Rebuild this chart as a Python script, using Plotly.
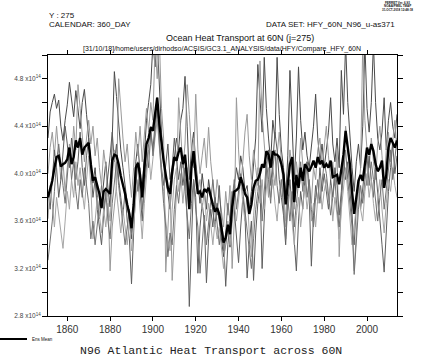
import plotly.graph_objects as go

# ---------------- data (units of 1e14 W) ----------------
years = list(range(1851, 2015))

ens_mean = [
    3.80, 3.86, 3.94, 4.05, 4.14, 4.15, 4.06, 4.08, 4.09, 4.12,
    4.22, 4.08, 4.14, 4.28, 4.22, 4.30, 4.16, 4.22, 4.24, 4.26,
    4.08, 3.94, 3.97, 3.90, 3.83, 3.71, 3.85, 3.87, 3.85, 3.83,
    4.11, 4.16, 4.15, 4.08, 3.98, 3.91, 3.83, 3.74, 3.66, 3.54,
    3.74, 4.05, 4.09, 3.99, 3.80, 4.05, 4.25, 4.30, 4.39, 4.36,
    4.50, 4.64, 4.42, 4.25, 4.11, 3.99, 3.88, 3.83, 4.02, 4.14,
    4.11, 4.18, 4.22, 4.08, 4.16, 3.95, 3.70, 4.05, 4.19, 3.99,
    3.83, 3.85, 3.80, 3.87, 3.85, 3.88, 3.80, 3.74, 3.68, 3.71,
    3.66, 3.54, 3.42, 3.46, 3.57, 3.49, 3.72, 3.85, 3.86, 3.88,
    3.97, 3.91, 3.83, 3.80, 3.66, 3.74, 3.88, 3.94, 3.95, 4.00,
    4.08, 4.05, 4.19, 4.16, 4.05, 4.19, 4.16, 4.16, 4.14, 4.08,
    3.99, 3.74, 3.94, 4.08, 4.14, 3.76, 3.99, 3.88, 4.05, 3.94,
    4.08, 4.05, 4.02, 4.06, 4.11, 4.05, 4.14, 4.08, 4.11, 4.05,
    4.08, 4.05, 4.11, 3.97, 3.98, 3.99, 3.91, 4.02, 4.16, 4.36,
    4.22, 4.08, 3.85, 3.66, 3.80, 3.94, 3.99, 3.94, 4.08, 4.22,
    4.16, 4.25, 4.19, 4.08, 4.02, 4.05, 4.11, 3.88, 3.99, 4.22,
    4.30, 4.26, 4.22, 4.28,
]

member_1 = [
    4.30, 4.52, 4.60, 4.67, 4.55, 4.62, 4.40, 4.28, 4.45, 4.58,
    4.77, 4.60, 4.48, 4.70, 4.52, 4.38, 4.60, 4.71, 4.50, 4.28,
    4.10, 3.92, 4.05, 3.80, 3.62, 3.75, 3.95, 4.10, 3.88, 3.72,
    4.30, 4.86, 4.65, 4.40, 4.20, 4.05, 3.90, 3.78, 3.60, 3.45,
    3.70, 4.10, 4.25, 4.00, 3.85, 4.20, 4.45, 4.60, 4.75, 5.10,
    4.90, 5.15, 4.70, 4.35, 4.10, 3.95, 3.80, 3.70, 3.95, 4.15,
    4.30, 4.20, 4.45, 4.55, 4.82, 4.40, 3.95, 4.20, 4.35, 4.10,
    3.90, 3.75, 4.00, 3.85, 3.70, 3.95, 3.80, 3.65, 3.55, 3.75,
    3.60, 3.45, 3.30, 3.40, 3.55, 3.38, 3.70, 3.90, 4.05, 3.95,
    4.15, 4.05, 3.85, 3.90, 3.70, 3.85, 4.05, 4.30, 4.92, 4.60,
    4.35, 4.98, 4.55, 4.30, 4.10, 4.45, 4.30, 4.98, 4.50, 4.20,
    4.05, 3.80, 4.15, 4.87, 4.40, 3.95, 4.30, 4.90, 4.45, 4.20,
    4.35, 4.15, 4.05, 4.20, 4.40, 4.67, 4.30, 4.10, 4.25, 4.05,
    4.20, 4.35, 4.64, 4.25, 4.10, 4.30, 4.05, 4.87, 4.50, 5.10,
    4.60, 4.30, 4.05, 3.85, 4.10, 4.25, 4.05, 4.40, 5.10, 4.55,
    4.35, 4.60, 5.10, 4.60, 4.30, 4.20, 4.35, 4.64, 4.20, 4.45,
    4.60, 4.40, 4.30, 4.50,
]

member_2 = [
    4.00, 4.22, 4.35, 4.15, 4.40, 4.20, 3.95, 4.10, 3.85, 4.05,
    4.25, 4.10, 4.40, 4.20, 4.75, 4.55, 4.35, 4.10, 4.30, 4.45,
    4.25, 4.40, 4.15, 4.30, 4.05, 3.90, 4.20, 4.05, 3.80, 3.18,
    3.55, 3.70, 3.90, 4.80, 4.50, 4.30, 4.10, 4.25, 4.00, 3.80,
    4.05, 4.35, 4.15, 4.40, 4.10, 4.30, 4.55, 4.35, 4.60, 4.45,
    5.10, 4.80, 5.15, 4.55, 4.30, 3.17, 3.60, 3.90, 3.10, 3.50,
    3.85, 4.64, 4.30, 4.05, 4.25, 4.75, 4.50, 4.20, 4.05, 4.67,
    4.20, 4.00, 4.15, 4.30, 4.05, 4.39, 4.10, 3.90, 3.75, 3.95,
    3.80, 3.70, 3.55, 3.85, 3.65, 3.90, 3.20, 3.60, 4.64, 4.20,
    3.90, 4.10, 4.35, 4.50, 4.15, 3.95, 4.20, 4.05, 3.90, 4.95,
    4.50, 4.25, 4.05, 3.80, 4.20, 4.05, 3.90, 4.15, 4.35, 4.10,
    3.85, 3.60, 3.95, 4.20, 4.05, 3.70, 4.10, 3.95, 4.30, 4.05,
    3.85, 4.10, 3.90, 3.75, 4.05, 3.95, 4.20, 4.30, 4.05, 4.25,
    4.40, 4.15, 3.95, 4.10, 3.90, 4.20, 3.30, 3.75, 4.05, 4.40,
    4.20, 4.05, 3.70, 3.18, 3.50, 3.85, 4.05, 5.10, 4.45, 4.20,
    4.05, 4.30, 4.10, 3.95, 4.25, 4.40, 4.15, 3.90, 4.20, 4.35,
    4.10, 4.25, 4.45, 4.20,
]

member_3 = [
    3.85, 3.70, 3.95, 4.20, 4.05, 3.80, 3.95, 4.15, 4.40, 4.25,
    4.05, 4.30, 4.15, 3.95, 4.10, 4.35, 4.05, 3.90, 4.15, 4.30,
    4.05, 3.80, 3.95, 3.70, 3.55, 3.40, 3.65, 3.80, 4.00, 4.15,
    4.35, 4.10, 4.25, 3.95, 3.80, 3.65, 3.85, 3.60, 3.45, 3.07,
    3.50, 3.90, 4.10, 3.85, 3.60, 3.95, 4.20, 4.05, 4.35, 4.20,
    4.40, 4.64, 4.30, 4.05, 3.90, 4.10, 4.25, 3.95, 4.05, 4.30,
    4.15, 3.95, 4.10, 3.90, 4.05, 3.60, 2.88, 3.50, 3.95, 3.80,
    3.16, 3.55, 3.75, 3.60, 3.08, 3.45, 3.70, 3.55, 3.80, 3.65,
    3.90, 3.60, 3.45, 3.05, 3.40, 3.60, 3.85, 3.70, 3.50, 3.25,
    3.55, 3.80, 3.65, 3.12, 3.40, 3.60, 3.10, 3.50, 3.75, 3.90,
    3.20, 3.65, 4.05, 4.20, 3.90, 4.10, 4.35, 4.20, 3.95, 3.80,
    3.65, 3.40, 3.75, 3.95, 3.70, 3.50, 3.18, 3.60, 3.85, 3.70,
    3.95, 4.10, 3.80, 3.22, 3.65, 3.90, 3.75, 4.05, 3.85, 4.00,
    3.85, 3.70, 3.95, 3.80, 4.05, 3.90, 3.65, 3.85, 4.15, 3.95,
    4.10, 3.85, 3.60, 3.40, 3.75, 3.95, 3.70, 3.85, 4.05, 3.90,
    4.15, 3.95, 3.80, 4.05, 3.85, 3.60, 3.40, 3.17, 3.55, 3.85,
    4.05, 4.25, 4.00, 4.15,
]

member_4 = [
    3.62, 3.90, 3.75, 3.55, 3.80, 3.65, 3.50, 3.37, 3.60, 3.85,
    3.70, 3.95, 3.80, 4.10, 3.90, 4.05, 3.85, 3.70, 3.95, 4.15,
    3.90, 3.45, 3.60, 3.80, 3.65, 3.50, 3.70, 3.55, 3.75, 3.60,
    3.95, 4.20, 3.85, 3.65, 3.50, 3.70, 3.55, 3.40, 3.62, 3.35,
    3.55, 3.80, 3.95, 3.70, 3.45, 3.75, 4.00, 4.20, 3.95, 4.15,
    4.30, 4.45, 4.20, 4.00, 3.85, 3.60, 3.45, 3.35, 3.70, 3.95,
    4.05, 3.85, 4.00, 3.75, 3.95, 4.05, 3.80, 4.10, 4.30, 4.05,
    3.85, 3.95, 3.70, 3.85, 3.60, 3.75, 3.55, 3.40, 3.60, 3.45,
    3.55, 3.35, 3.20, 3.45, 3.60, 3.40, 3.55, 3.75, 3.60, 3.80,
    3.95, 3.75, 3.60, 3.85, 3.50, 3.30, 3.65, 3.85, 4.05, 3.75,
    3.95, 3.70, 3.85, 4.05, 3.80, 3.95, 3.75, 3.60, 3.85, 3.95,
    3.80, 3.55, 3.70, 3.85, 3.60, 3.40, 3.65, 3.80, 3.55, 3.75,
    3.90, 3.70, 3.85, 3.60, 3.75, 3.55, 3.80, 3.95, 3.70, 3.85,
    3.95, 3.75, 3.90, 3.60, 3.80, 3.65, 3.45, 3.70, 3.85, 4.05,
    3.85, 3.65, 3.40, 3.55, 3.75, 3.90, 3.70, 3.60, 3.85, 4.00,
    3.80, 3.95, 3.75, 3.60, 3.80, 3.95, 3.70, 3.50, 3.75, 3.95,
    3.85, 4.05, 3.90, 3.80,
]

member_5 = [
    3.27, 3.42, 3.60, 3.85, 4.10, 4.25, 4.05, 3.90, 3.75, 3.95,
    4.20, 3.95, 4.10, 3.85, 3.70, 3.95, 3.80, 4.05, 3.90, 3.75,
    3.45, 3.60, 3.40, 3.55, 3.75, 3.90, 3.70, 3.85, 3.60, 3.45,
    3.75, 3.95, 4.10, 3.90, 3.75, 3.60, 3.40, 3.55, 3.70, 3.50,
    3.80, 4.00, 3.85, 4.05, 3.70, 3.90, 4.10, 4.25, 4.40, 4.15,
    4.35, 4.55, 4.25, 3.95, 3.75, 3.55, 3.30, 3.50, 3.40, 3.70,
    3.90, 3.75, 3.95, 4.15, 3.85, 3.65, 3.45, 3.75, 3.95, 3.70,
    3.55, 3.16, 3.45, 3.65, 3.40, 3.60, 3.80, 3.95, 3.75, 3.55,
    3.40, 3.55, 3.35, 3.50, 3.75, 3.60, 3.80, 3.95, 3.70, 3.85,
    4.00, 3.85, 3.70, 3.55, 3.35, 3.20, 3.45, 3.70, 3.85, 4.05,
    3.60, 3.85, 4.10, 3.95, 3.75, 4.05, 4.20, 3.90, 3.75, 3.95,
    3.70, 3.45, 3.80, 3.60, 3.85, 3.55, 3.75, 3.90, 4.10, 3.85,
    4.05, 3.80, 3.95, 3.70, 3.55, 3.80, 3.95, 3.75, 3.90, 4.10,
    4.00, 3.85, 3.65, 3.80, 3.95, 3.70, 3.55, 3.80, 4.00, 4.20,
    3.95, 3.75, 3.55, 3.15, 3.45, 3.70, 3.90, 3.75, 3.95, 4.15,
    3.90, 4.10, 3.95, 3.75, 3.60, 3.80, 3.95, 3.70, 3.85, 4.05,
    4.20, 3.95, 4.10, 4.30,
]

members = [member_1, member_2, member_3, member_4, member_5]
member_colors = ["#4a4a4a", "#9a9a9a", "#5e5e5e", "#a6a6a6", "#737373"]

y_tick_vals = [2.8, 3.2, 3.6, 4.0, 4.4, 4.8]
y_tick_text = ["2.8 x10<sup>14</sup>", "3.2 x10<sup>14</sup>", "3.6 x10<sup>14</sup>",
               "4.0 x10<sup>14</sup>", "4.4 x10<sup>14</sup>", "4.8 x10<sup>14</sup>"]
y_minor_vals = [3.0, 3.4, 3.8, 4.2, 4.6, 5.0]
x_tick_vals = [1860, 1880, 1900, 1920, 1940, 1960, 1980, 2000]

# ---------------- figure ----------------
W, H = 421, 358
ML, MR, MT, MB = 48, 24, 55, 42
PW, PH = W - ML - MR, H - MT - MB


def px(x):
    return (x - ML) / PW


def py(y):
    return (H - MB - y) / PH


fig = go.Figure()
for vals, col in zip(members, member_colors):
    fig.add_trace(go.Scatter(x=years, y=vals, mode="lines",
                             line=dict(color=col, width=1), showlegend=False,
                             hoverinfo="skip"))
fig.add_trace(go.Scatter(x=years, y=ens_mean, mode="lines",
                         line=dict(color="black", width=2.4), name="Ens Mean",
                         showlegend=False))

sans = "Liberation Sans"
fig.update_layout(
    width=W, height=H,
    margin=dict(l=ML, r=MR, t=MT, b=MB, pad=0),
    paper_bgcolor="white", plot_bgcolor="white",
    xaxis=dict(range=[1851, 2014], tickvals=x_tick_vals, ticks="outside", ticklen=4,
               tickcolor="black", tickwidth=1, showline=True, linecolor="black",
               linewidth=1, mirror="ticks", showgrid=False, zeroline=False,
               tickfont=dict(family=sans, size=10, color="#333333")),
    yaxis=dict(range=[2.8, 5.0], tickvals=y_tick_vals, ticktext=y_tick_text,
               ticks="outside", ticklen=5, tickcolor="black", tickwidth=1,
               showline=True, linecolor="black", linewidth=1, mirror="ticks",
               showgrid=False, zeroline=False,
               minor=dict(tickvals=y_minor_vals, ticks="outside", ticklen=5,
                          tickcolor="black", tickwidth=1, showgrid=False),
               tickfont=dict(family=sans, size=6.5, color="#444444")),
)

anns = [
    dict(text="Y : 275", x=px(48), y=py(15), xanchor="left", size=8),
    dict(text="CALENDAR: 360_DAY", x=px(48), y=py(25), xanchor="left", size=8),
    dict(text="DATA SET: HFY_60N_N96_u-as371", x=px(396), y=py(25), xanchor="right", size=8),
    dict(text="Ocean Heat Transport at 60N (j=275)", x=px(240), y=py(38), xanchor="center", size=9),
    dict(text="[31/10/18]/home/users/dirhodso/ACSIS/GC3.1_ANALYSIS/data/HFY/Compare_HFY_60N",
         x=px(222), y=py(49), xanchor="center", size=7),
    dict(text="<b>FERRET Ver. 6.93</b>", x=px(397), y=py(2.5), xanchor="center", size=3),
    dict(text="<b>NOAA/PMEL TMAP</b>", x=px(397), y=py(6), xanchor="center", size=3),
    dict(text="<b>31-OCT-2018 12:48:18</b>", x=px(397), y=py(9.5), xanchor="center", size=3),
    dict(text="Ens Mean", x=px(31), y=py(339), xanchor="left", size=4.5),
]
for a in anns:
    fig.add_annotation(text=a["text"], x=a["x"], y=a["y"], xref="paper", yref="paper",
                       xanchor=a["xanchor"], yanchor="middle", showarrow=False,
                       borderpad=0,
                       font=dict(family=sans, size=a["size"], color="#111111"))

fig.add_annotation(text="N96 Atlantic Heat Transport across 60N", x=px(211), y=py(350),
                   xref="paper", yref="paper", xanchor="center", yanchor="middle",
                   showarrow=False, borderpad=0,
                   font=dict(family="Liberation Mono", size=11.5, color="#222222"))

fig.add_shape(type="line", xref="paper", yref="paper", x0=px(0), x1=px(27),
              y0=py(339), y1=py(339), line=dict(color="black", width=2))

fig.write_html(
    "out.html",
    config={"displayModeBar": False},
    post_script="document.body.style.margin='0px';document.body.style.overflow='hidden';",
)
